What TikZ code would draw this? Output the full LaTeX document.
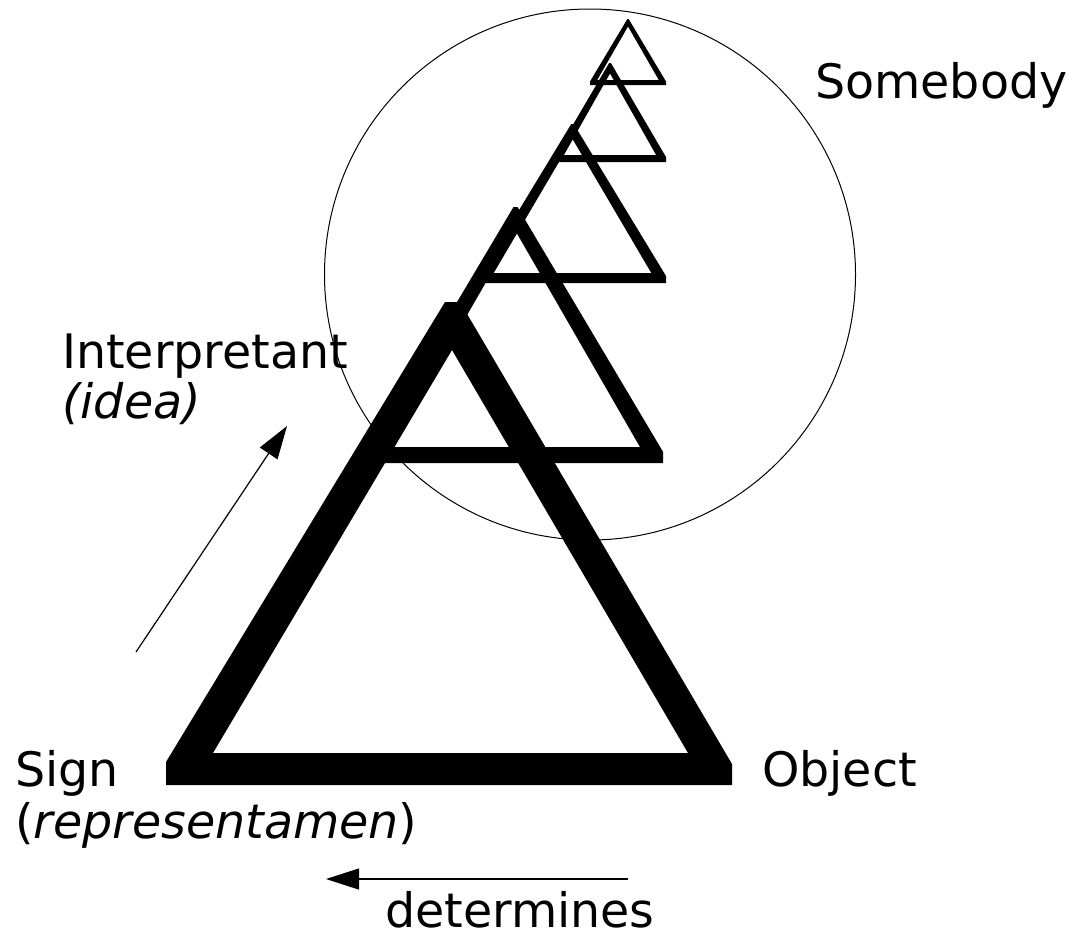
\documentclass[tikz,border=0pt]{standalone}
\usepackage{fontspec}
\setmainfont{DejaVu Sans}
\usetikzlibrary{arrows.meta}
\newcommand{\ptri}[5]{% cx, apex y, base y, half width, thickness
  \pgfmathsetmacro{\pL}{#1-#4}\pgfmathsetmacro{\pR}{#1+#4}
  \pgfmathsetmacro{\pC}{#3-0.7*#5}
  \pgfmathsetmacro{\pAl}{#1-0.125*#5}\pgfmathsetmacro{\pAr}{#1+0.125*#5}
  \pgfmathsetmacro{\pK}{#4/(#3-#2)}
  \pgfmathsetmacro{\pHi}{\pK*((#3-#2)-2.5*#5)}
  \pgfmathsetmacro{\pIL}{#1-\pHi}\pgfmathsetmacro{\pIR}{#1+\pHi}
  \pgfmathsetmacro{\pIB}{#3-#5}\pgfmathsetmacro{\pIA}{#2+1.5*#5}
  \fill[tri] (\pL,#3) -- (\pL,\pC) -- (\pAl,#2) -- (\pAr,#2) -- (\pR,\pC) -- (\pR,#3) -- cycle
    (\pIL,\pIB) -- (#1,\pIA) -- (\pIR,\pIB) -- cycle;
}
\begin{document}
\begin{tikzpicture}[x=1pt,y=-1pt,
  tri/.style={black,even odd rule},
  lbl/.style={font=\fontsize{47.5}{55}\selectfont,inner sep=0pt,anchor=base west},
  thinline/.style={line width=1pt},
  arr/.style={line width=1.2pt,-{Triangle[length=33pt,width=21pt]}}]
\useasboundingbox (0,0) rectangle (1075,943);
% circle
\draw[thinline] (590,274.5) circle[radius=265.5pt];
% triangles
\fill[tri] (166,785) -- (166,762) -- (445,302) -- (460,302) -- (732,764) -- (732,785) -- cycle
  (213,753) -- (452,350) -- (688,753) -- cycle;
\ptri{515.5}{207}{463}{147.5}{16}
\ptri{572.5}{124}{283}{93.5}{10}
\ptri{610}{63}{162}{56}{7}
\ptri{628}{19}{85}{38}{5}
% labels
\node[lbl] (somebody) at (815,98) {Somebody};
\node[lbl] (interp) at (62,368) {Interpretant};
\node[lbl] (idea) at (62,418) {\itshape (idea)};
\node[lbl] (sign) at (15,786) {Sign};
\node[lbl] (repr) at (15,838) {(\textit{representamen})};
\node[lbl] (object) at (762,786) {Object};
\node[lbl] (det) at (385,927) {determines};
% arrows
\coordinate (a1s) at (136,652);
\coordinate (a1e) at (287,426);
\coordinate (a2s) at (628,879);
\coordinate (a2e) at (326,879);
\draw[arr] (a1s) -- (a1e);
\draw[arr] (a2s) -- (a2e);
\end{tikzpicture}
\end{document}
